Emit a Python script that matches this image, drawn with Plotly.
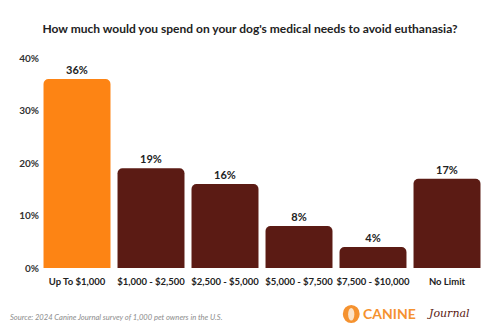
import plotly.graph_objects as go

categories = ["Up To $1,000", "$1,000 - $2,500", "$2,500 - $5,000", "$5,000 - $7,500", "$7,500 - $10,000", "No Limit"]
values = [36, 19, 16, 8, 4, 17]
labels = ["36%", "19%", "16%", "8%", "4%", "17%"]
colors = ["#FD8414", "#5B1B14", "#5B1B14", "#5B1B14", "#5B1B14", "#5B1B14"]
tick_vals = [0, 10, 20, 30, 40]
tick_text = ["0%", "10%", "20%", "30%", "40%"]

FONT = "Lato"

fig = go.Figure(go.Bar(
    x=categories, y=values, text=labels, textposition="outside",
    marker=dict(color=colors, cornerradius=5, line=dict(width=0)),
    textfont=dict(family=FONT, size=11, color="#222222", weight="bold"),
    cliponaxis=False,
))

fig.update_layout(
    width=500, height=333,
    margin=dict(l=40, r=16, t=58, b=65),
    paper_bgcolor="white", plot_bgcolor="white",
    bargap=0.095,
    showlegend=False,
    title=dict(text="<b>How much would you spend on your dog's medical needs to avoid euthanasia?</b>",
               x=0.5, xanchor="center", y=0.915, yanchor="middle",
               font=dict(family=FONT, size=12, color="#222222")),
    xaxis=dict(showgrid=False, showline=False, ticks="", tickangle=0, ticklabelstandoff=6,
               tickfont=dict(family=FONT, size=9.5, color="#222222", weight="bold")),
    yaxis=dict(range=[0, 40], tickvals=tick_vals, ticktext=tick_text, showgrid=False, zeroline=False,
               showline=False, ticks="", tickfont=dict(family=FONT, size=10, color="#333333", weight="bold")),
    font=dict(family=FONT),
)

fig.add_annotation(text="<i>Source: 2024 Canine Journal survey of 1,000 pet owners in the U.S.</i>",
                   xref="paper", yref="paper", x=-0.072, y=-0.233, xanchor="left", yanchor="middle",
                   showarrow=False, font=dict(family=FONT, size=7.6, color="#8C8C8C"))
fig.add_shape(type="circle", xref="paper", yref="paper", x0=0.682, x1=0.72, y0=-0.262, y1=-0.176,
              fillcolor="#F5922F", line=dict(width=0))
fig.add_shape(type="circle", xref="paper", yref="paper", x0=0.694, x1=0.708, y0=-0.25, y1=-0.19,
              fillcolor="#FBE3C8", line=dict(width=0))
fig.add_annotation(text="<b>CANINE</b>", xref="paper", yref="paper", x=0.724, y=-0.219,
                   xanchor="left", yanchor="middle", showarrow=False,
                   font=dict(family=FONT, size=14, color="#F5922F"))
fig.add_annotation(text="<i>Journal</i>", xref="paper", yref="paper", x=0.866, y=-0.219,
                   xanchor="left", yanchor="middle", showarrow=False,
                   font=dict(family="DejaVu Serif", size=11, color="#5B1B14"))

fig.write_html("out.html")
